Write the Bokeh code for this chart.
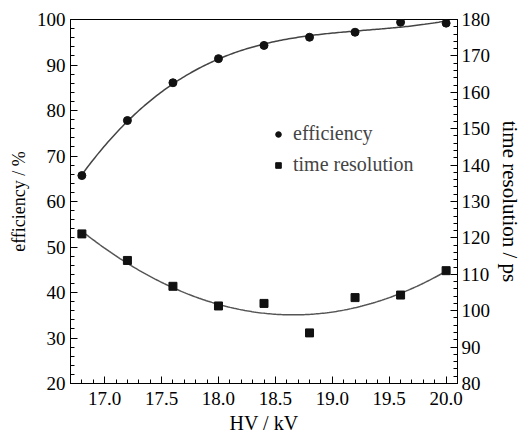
import numpy as np
from bokeh.plotting import figure
from bokeh.models import Range1d, LinearAxis, FixedTicker, NumeralTickFormatter, Legend, LegendItem
from bokeh.embed import file_html
from bokeh.resources import INLINE

# data
hv = [16.8, 17.2, 17.6, 18.0, 18.4, 18.8, 19.2, 19.6, 20.0]
efficiency = [65.7, 77.8, 86.1, 91.4, 94.3, 96.1, 97.2, 99.4, 99.2]
time_resolution = [121.1, 113.8, 106.7, 101.3, 102.0, 93.9, 103.6, 104.3, 111.0]

x_ticks = [17.0, 17.5, 18.0, 18.5, 19.0, 19.5, 20.0]
left_ticks = [20, 30, 40, 50, 60, 70, 80, 90, 100]
right_ticks = [80, 90, 100, 110, 120, 130, 140, 150, 160, 170, 180]

FONT = "Liberation Serif"

# fitted curves derived from the data
xf = np.linspace(min(hv), max(hv), 200)
eff_fit = np.polyval(np.polyfit(hv, efficiency, 3), xf)
tr_fit = np.polyval(np.polyfit(hv, time_resolution, 2), xf)

p = figure(width=525, height=439, output_backend="svg", toolbar_location=None,
           x_range=Range1d(16.7, 20.1), y_range=Range1d(20, 100),
           min_border_left=70, min_border_right=62, min_border_top=19, min_border_bottom=56)
p.extra_y_ranges = {"tr": Range1d(80, 180)}

p.xgrid.visible = False
p.ygrid.visible = False
p.outline_line_color = "black"
p.outline_line_width = 1
p.background_fill_color = "white"
p.border_fill_color = "white"

p.line(xf, eff_fit, line_color="#444444", line_width=1.5)
p.line(xf, tr_fit, line_color="#555555", line_width=1.5, y_range_name="tr")
r1 = p.scatter(hv, efficiency, marker="circle", size=8, fill_color="#111111", line_color="#111111")
r2 = p.scatter(hv, time_resolution, marker="square", size=8, fill_color="#111111", line_color="#111111",
               y_range_name="tr")

right = LinearAxis(y_range_name="tr")
p.add_layout(right, "right")

def style(ax, ticks, minor, label, label_size, fmt=None):
    ax.ticker = FixedTicker(ticks=ticks, minor_ticks=minor)
    ax.axis_label = label
    ax.axis_label_text_font = FONT
    ax.axis_label_text_font_style = "normal"
    ax.axis_label_text_font_size = label_size
    ax.major_label_text_font = FONT
    ax.major_label_text_font_size = "19px"
    ax.major_tick_in = 7
    ax.major_tick_out = 0
    ax.minor_tick_in = 4
    ax.minor_tick_out = 0
    ax.axis_line_color = "black"
    ax.major_tick_line_color = "black"
    ax.minor_tick_line_color = "black"
    ax.major_label_text_color = "black"
    ax.axis_label_text_color = "black"
    if fmt:
        ax.formatter = NumeralTickFormatter(format=fmt)

style(p.xaxis[0], x_ticks, [round(16.7 + 0.1 * i, 1) for i in range(35)], "HV / kV", "20px", "0.0")
style(p.yaxis[0], left_ticks, list(range(20, 101, 2)), "efficiency / %", "18px")
style(right, right_ticks, list(range(80, 181, 2)), "time resolution / ps", "21px")
p.xaxis[0].major_label_standoff = 8
p.xaxis[0].axis_label_standoff = 4
p.yaxis[0].major_label_standoff = 5
right.major_label_standoff = 4

legend = Legend(items=[LegendItem(label="efficiency", renderers=[r1]),
                       LegendItem(label="time resolution", renderers=[r2])],
                location=(201, 207))
legend.border_line_color = None
legend.background_fill_alpha = 0
legend.label_text_font = FONT
legend.label_text_font_size = "20px"
legend.glyph_width = 14
legend.glyph_height = 22
legend.label_height = 22
legend.spacing = 8
legend.padding = 0
legend.margin = 0
legend.label_standoff = 8
p.add_layout(legend)

open("out.html", "w").write(file_html(p, INLINE))
